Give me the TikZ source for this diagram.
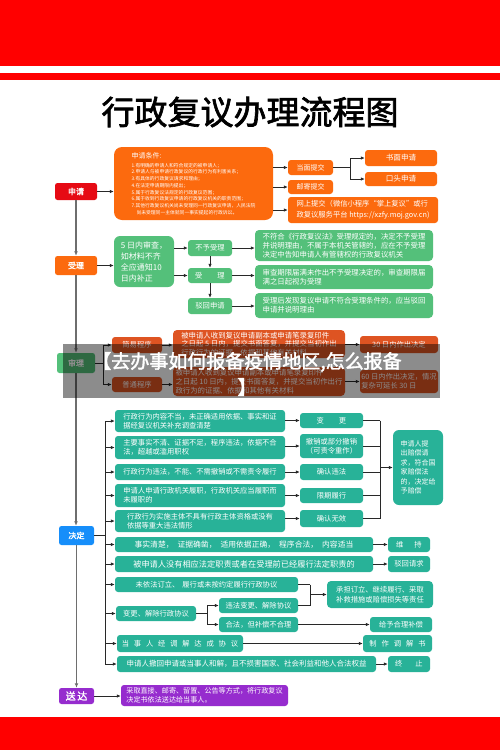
\documentclass[tikz,border=0pt]{standalone}
\usepackage{fontspec}
\setmainfont{Noto Sans CJK SC}[AutoFakeBold=2]
\usetikzlibrary{arrows.meta}
\definecolor{topred}{RGB}{255,0,0}
\definecolor{cred}{RGB}{230,10,20}
\definecolor{corange}{RGB}{252,106,14}
\definecolor{cgreen}{RGB}{84,192,122}
\definecolor{cteal}{RGB}{40,178,152}
\definecolor{cblue}{RGB}{22,142,250}
\definecolor{cpurple}{RGB}{150,44,206}
\definecolor{cdark}{RGB}{222,84,34}
\definecolor{lnc}{RGB}{40,40,40}
\definecolor{stc}{RGB}{110,110,110}
\newcommand\fsz[2]{\fontsize{#1}{#2}\selectfont}
\newcommand\gap{\hspace{4.8pt}}
\newcommand\mybox[7]{%
  \pgfmathsetmacro\bw{#4-#2}%
  \pgfmathsetmacro\bh{#5-#3}%
  \pgfmathsetmacro\bcx{(#2+#4)/2}%
  \pgfmathsetmacro\bcy{(#3+#5)/2}%
  \node[#6, minimum width=\bw pt, minimum height=\bh pt] (#1) at (\bcx,\bcy) {#7};}
\tikzset{
  bx/.style={rectangle, rounded corners=3pt, inner sep=0pt, text=white, align=center, font=\fsz{7.3}{9}},
  stagebox/.style={bx, rounded corners=2.5pt, font=\fsz{8}{9}\bfseries},
  obox/.style={bx, fill=corange},
  gbox/.style={bx, fill=cgreen},
  tbox/.style={bx, fill=cteal},
  dbox/.style={bx, fill=cdark},
  lft/.style={align=left},
  conn/.style={draw=lnc, line width=0.7pt},
  arr/.style={conn, -{Latex[length=4pt,width=3.4pt]}},
  stl/.style={draw=stc, line width=1.1pt, -{Latex[length=4.5pt,width=3.8pt]}},
}
\begin{document}
\begin{tikzpicture}[x=1pt,y=-1pt]
\useasboundingbox (0,0) rectangle (500,750);
\fill[white] (0,0) rectangle (500,750);
\fill[topred] (0,0) rectangle (500,65.5);
\fill[topred] (0,72.5) rectangle (500,80);
\fill[topred] (0,717) rectangle (500,750);

\node[font=\fsz{33}{36}\bfseries, text=black, inner sep=0pt] (title) at (250,112) {行政复议办理流程图};

% stages
\mybox{s1}{55}{183}{97}{200}{stagebox, fill=cred}{申请}
\mybox{s2}{55}{256}{97}{275}{stagebox, fill=corange}{受理}
\mybox{s3}{57}{353}{95}{373}{stagebox, fill=cgreen}{审理}
\mybox{s4}{59}{526}{94}{545}{stagebox, fill=cblue}{决定}
\mybox{s5}{59}{688}{94}{704}{stagebox, fill=cpurple, font=\fsz{10}{11}\bfseries}{送\,达}
\draw[stl] (s1.south) -- (s1.south |- s2.north);
\draw[stl] (s2.south) -- (s2.south |- s3.north);
\draw[stl] (s3.south) -- (s3.south |- s4.north);
\draw[stl] (s4.south) -- (s4.south |- s5.north);

% apply
\mybox{c1}{114}{147}{273}{220}{obox, rounded corners=8pt, lft, font=\fsz{4.8}{6.75}}{{\fsz{7}{8}申请条件:}\\[2.3pt]1.有明确的申请人和符合规定的被申请人；\\2.申请人与被申请行政复议的行政行为有利害关系；\\3.有具体的行政复议请求和理由；\\4.在法定申请期限内提出；\\5.属于行政复议法规定的行政复议范围；\\6.属于收到行政复议申请的行政复议机关的职责范围；\\7.其他行政复议机关尚未受理同一行政复议申请，人民法院\\\hspace*{5pt}尚未受理同一主体就同一事实提起的行政诉讼。}
\mybox{m1}{288}{160}{333}{175}{obox, font=\fsz{7}{8}}{当面提交}
\mybox{m2}{288}{180}{333}{194}{obox, font=\fsz{7}{8}}{邮寄提交}
\mybox{m3}{288}{197}{438}{223}{obox, lft, font=\fsz{7.3}{11.5}}{网上提交（微信小程序“掌上复议”或行\\政复议服务平台 https://xzfy.moj.gov.cn)}
\mybox{m4}{365}{150}{437}{166}{obox, font=\fsz{7.6}{8}}{书面申请}
\mybox{m5}{365}{172}{437}{186}{obox, font=\fsz{7.6}{8}}{口头申请}
\draw[arr] (s1.east) -- (c1.west |- s1.east);
\draw[arr] (c1.east |- m1.west) -- (m1.west);
\draw[arr] (c1.east |- m2.west) -- (m2.west);
\draw[arr] (c1.east |- m3.west) -- (m3.west);
\coordinate (j1) at (350,167.5);
\draw[conn] (m1.east) -- (m1.east -| j1);
\draw[conn] (j1 |- m4.west) -- (j1 |- m5.west);
\draw[arr] (j1 |- m4.west) -- (m4.west);
\draw[arr] (j1 |- m5.west) -- (m5.west);

% accept
\mybox{r1}{114}{236}{174}{287}{gbox, rounded corners=6pt, lft, font=\fsz{8}{11}}{5 日内审查，\\如材料不齐\\全应通知10\\日内补正}
\mybox{r2}{188}{240}{232}{256}{gbox}{不予受理}
\mybox{r3}{188}{268}{232}{283}{gbox}{受\hspace{15pt}理}
\mybox{r4}{188}{298}{232}{314}{gbox}{驳回申请}
\mybox{r5}{255}{230}{433}{261}{gbox, rounded corners=4pt, lft, font=\fsz{7.4}{8.8}}{不符合《行政复议法》受理规定的，决定不予受理\\并说明理由，不属于本机关管辖的，应在不予受理\\决定中告知申请人有管辖权的行政复议机关}
\mybox{r6}{255}{265}{433}{289}{gbox, rounded corners=4pt, lft, font=\fsz{7.4}{9}}{审查期限届满未作出不予受理决定的，审查期限届\\满之日起视为受理}
\mybox{r7}{255}{293}{433}{318}{gbox, rounded corners=4pt, lft, font=\fsz{7.4}{9}}{受理后发现复议申请不符合受理条件的，应当驳回\\申请并说明理由}
\draw[arr] (s2.east) -- (r1.west |- s2.east);
\draw[arr] (r1.east |- r2.west) -- (r2.west);
\draw[arr] (r1.east |- r3.west) -- (r3.west);
\draw[arr] (r2.south) -- (r3.north);
\draw[arr] (r3.south) -- (r4.north);
\draw[arr] (r2.east) -- (r5.west |- r2.east);
\draw[arr] (r3.east) -- (r6.west |- r3.east);
\draw[arr] (r4.east) -- (r7.west |- r4.east);

% review
\mybox{t1}{112}{337}{162}{353}{dbox}{简易程序}
\mybox{t2}{112}{377}{162}{392}{dbox}{普通程序}
\mybox{t3}{173}{330}{345}{358}{dbox, rounded corners=4pt, lft, font=\fsz{7.4}{8.6}}{被申请人收到复议申请副本或申请笔录复印件\\之日起 5 日内，提交书面答复，并提交当初作出\\行政行为的证据、依据和其他有关材料}
\mybox{t4}{173}{367}{345}{396}{dbox, rounded corners=4pt, lft, font=\fsz{7.4}{8.8}}{被申请人收到复议申请副本或申请笔录复印件\\之日起 10 日内，提交书面答复，并提交当初作出行\\政行为的证据、依据和其他有关材料}
\mybox{t5}{360}{336}{438}{353}{dbox}{30 日内作出决定}
\mybox{t6}{360}{370}{438}{393}{dbox, lft}{60 日内作出决定，情况\\复杂可延长 30 日}
\coordinate (j2) at (103,363);
\draw[conn] (s3.east) -- (s3.east -| j2);
\draw[conn] (j2 |- t1.west) -- (j2 |- t2.west);
\draw[arr] (j2 |- t1.west) -- (t1.west);
\draw[arr] (j2 |- t2.west) -- (t2.west);
\draw[arr] (t1.east) -- (t3.west |- t1.east);
\draw[arr] (t2.east) -- (t4.west |- t2.east);
\draw[arr] (t3.east |- t5.west) -- (t5.west);
\draw[arr] (t4.east |- t6.west) -- (t6.west);

% decide
\mybox{d1}{115}{410}{285}{432}{tbox, lft}{行政行为内容不当，未正确适用依据、事实和证\\据经复议机关补充调查清楚}
\mybox{d2}{115}{436}{285}{459}{tbox, lft}{主要事实不清、证据不足，程序违法，依据不合\\法，超越或滥用职权}
\mybox{d3}{115}{464}{285}{480}{tbox, lft}{行政行为违法，不能、不需撤销或不需责令履行}
\mybox{d4}{115}{484}{285}{507}{tbox, lft}{申请人申请行政机关履职，行政机关应当履职而\\未履职的}
\mybox{d5}{115}{510}{285}{532}{tbox, lft}{行政行为实施主体不具有行政主体资格或没有\\依据等重大违法情形}
\mybox{e1}{300}{413}{363}{428}{tbox}{变\hspace{15pt}更}
\mybox{e2}{300}{434}{363}{458}{tbox}{撤销或部分撤销\\（可责令重作）}
\mybox{e3}{300}{464}{363}{480}{tbox}{确认违法}
\mybox{e4}{300}{488}{363}{503}{tbox}{限期履行}
\mybox{e5}{300}{510}{363}{527}{tbox}{确认无效}
\mybox{f1}{393}{430}{443}{505}{tbox, rounded corners=6pt, lft, font=\fsz{7}{9.5}}{申请人提\\出赔偿请\\求，符合国\\家赔偿法\\的，决定给\\予赔偿}
\mybox{g1}{115}{537}{373}{552}{tbox, font=\fsz{7.8}{9}}{事实清楚，\hspace{4pt}证据确凿，\hspace{4pt}适用依据正确，\hspace{4pt}程序合法，\hspace{4pt}内容适当}
\mybox{h1}{388}{537}{430}{552}{tbox}{维\hspace{11pt}持}
\mybox{g2}{115}{556}{373}{572}{tbox, font=\fsz{8.2}{9}}{被申请人没有相应法定职责或者在受理前已经履行法定职责的}
\mybox{h2}{388}{556}{430}{572}{tbox}{驳回请求}
\mybox{g3}{115}{577}{298}{592}{tbox}{未依法订立、\hspace{3pt}履行或未按约定履行行政协议}
\mybox{g4}{116}{606}{196}{621}{tbox}{变更、解除行政协议}
\mybox{g5}{219}{598}{298}{613}{tbox}{违法变更、解除协议}
\mybox{g6}{219}{617}{298}{632}{tbox}{合法，但补偿不合理}
\mybox{h3}{327}{581}{433}{608}{tbox, rounded corners=4pt, lft, font=\fsz{7.3}{10}}{承担订立、继续履行、采取\\补救措施或赔偿损失等责任}
\mybox{h4}{370}{617}{432}{632}{tbox}{给予合理补偿}
\mybox{g7}{117}{635}{243}{652}{tbox}{当\gap 事\gap 人\gap 经\gap 调\gap 解\gap 达\gap 成\gap 协\gap 议}
\mybox{h5}{363}{635}{432}{652}{tbox}{制\hspace{5pt}作\hspace{5pt}调\hspace{5pt}解\hspace{5pt}书}
\mybox{g8}{117}{656}{376}{672}{tbox, font=\fsz{7.5}{9}}{申请人撤回申请或当事人和解，且不损害国家、社会利益和他人合法权益}
\mybox{h6}{388}{656}{430}{672}{tbox}{终\hspace{13pt}止}
\coordinate (b1) at (105,420);
\draw[conn] (s4.east) -- (s4.east -| b1);
\draw[conn] (b1 |- d1.west) -- (b1 |- g8.west);
\foreach \n in {d1,d2,d3,d4,d5,g1,g2,g3,g4,g7,g8}{\draw[arr] (b1 |- \n.west) -- (\n.west);}
\draw[arr] (d1.east |- e1.west) -- (e1.west);
\draw[arr] (d2.east |- e2.west) -- (e2.west);
\draw[arr] (d3.east |- e3.west) -- (e3.west);
\draw[arr] (d4.east |- e4.west) -- (e4.west);
\draw[arr] (d5.east |- e5.west) -- (e5.west);
\coordinate (j3) at (380,467);
\foreach \n in {e1,e2,e3,e4,e5}{\draw[conn] (\n.east) -- (\n.east -| j3);}
\draw[conn] (e1.east -| j3) -- (e5.east -| j3);
\draw[arr] (j3 |- f1.west) -- (f1.west);
\draw[arr] (g1.east) -- (h1.west);
\draw[arr] (g2.east) -- (h2.west);
\coordinate (j4) at (207,615);
\draw[conn] (g4.east) -- (g4.east -| j4);
\draw[conn] (j4 |- g5.west) -- (j4 |- g6.west);
\draw[arr] (j4 |- g5.west) -- (g5.west);
\draw[arr] (j4 |- g6.west) -- (g6.west);
\coordinate (j5) at (310,595);
\draw[conn] (g3.east) -- (g3.east -| j5);
\draw[conn] (g5.east) -- (g5.east -| j5);
\draw[conn] (g3.east -| j5) -- (g5.east -| j5);
\draw[arr] (j5 |- h3.west) -- (h3.west);
\draw[arr] (g6.east) -- (h4.west);
\draw[arr] (g7.east) -- (h5.west);
\draw[arr] (g8.east) -- (h6.west);

% deliver
\mybox{k1}{121}{685}{288}{706}{bx, fill=cpurple, lft, font=\fsz{7.1}{9.5}}{采取直接、邮寄、留置、公告等方式，将行政复议\\决定书依法送达给当事人。}
\draw[arr] (s5.east) -- (k1.west |- s5.east);

% banner overlay
\fill[black, opacity=0.45] (63,344) rectangle (440,398);
\node[text=white, font=\fsz{19}{26}\bfseries, align=center, inner sep=0pt] (ban) at (247,374) {【去办事如何报备疫情地区,怎么报备\\】};
\end{tikzpicture}
\end{document}
